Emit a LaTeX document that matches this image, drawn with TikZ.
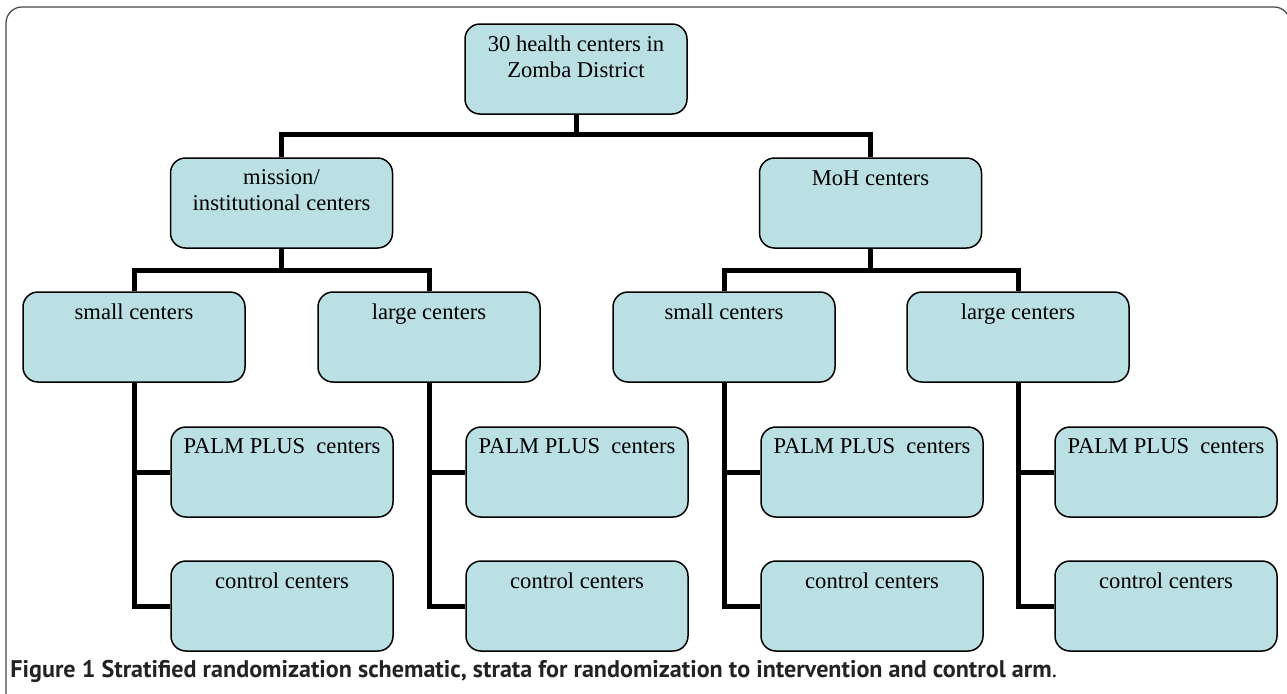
\documentclass[tikz,border=0pt]{standalone}
\usepackage{fontspec}
\setmainfont{Liberation Serif}
\newfontfamily\capfont{PT Sans}
\usetikzlibrary{positioning}
\definecolor{boxblue}{RGB}{186,224,227}
\definecolor{framegray}{RGB}{70,70,70}
\definecolor{capgray}{RGB}{35,35,35}
\begin{document}
\begin{tikzpicture}[x=0.5pt, y=-0.5pt]
	% Styles
	\tikzstyle{box}=[draw=black, line width=0.75pt, fill=boxblue, rounded corners=7.5pt, minimum width=111pt, minimum height=45pt, inner sep=0pt]
	\tikzstyle{txt}=[align=center, font=\fontsize{11.3}{13}\selectfont, inner sep=0pt, anchor=base]
	\tikzstyle{conn}=[draw, line width=2.5pt, -]

	\useasboundingbox (0,0) rectangle (1287,693);

	% Frame
	\draw[framegray, line width=0.6pt, rounded corners=8pt] (6,720) -- (6,7) -- (1290,7) -- (1290,720);

	% Top level (base is the last line)
	\node[box] (zomba) at (576,69) {};
	\node[txt] (zomba-t) at (576,77) {30 health centers in\\Zomba District};

	% Second level
	\node[box] (mission) at (281.5,203) {};
	\node[box] (moh) at (870.5,203) {};
	\node[txt] (mission-t) at (281.5,210) {mission/\\institutional centers};
	\node[txt] (moh-t) at (870.5,185) {MoH centers};

	% Third level: size strata
	\foreach \name/\x/\lbl in {smallA/134/small, largeA/429/large, smallB/724/small, largeB/1018/large}
	{
		\node[box] (\name) at (\x,337) {};
		\node[txt] (\name-t) at (\x,319) {\lbl\ centers};
	}

	% Fourth level: arms
	\foreach \name/\x in {smallA/134, largeA/429, smallB/724, largeB/1018}
	{
		\node[box] (\name-palm) at (\x+148,472) {};
		\node[txt] (\name-palm-t) at (\x+148,453) {PALM PLUS\ \ centers};
		\node[box] (\name-ctrl) at (\x+148,606) {};
		\node[txt] (\name-ctrl-t) at (\x+148,588) {control centers};
	}

	% Connect top to second level
	\coordinate (bus0) at (576,134);
	\path[conn] (zomba) -- (bus0);
	\path[conn] (mission) |- (bus0) -| (moh);

	% Connect second to third level
	\coordinate (bus1) at (281.5,270);
	\coordinate (bus2) at (870.5,270);
	\path[conn] (mission) -- (bus1);
	\path[conn] (smallA) |- (bus1) -| (largeA);
	\path[conn] (moh) -- (bus2);
	\path[conn] (smallB) |- (bus2) -| (largeB);

	% Connect strata to arms
	\foreach \name in {smallA, largeA, smallB, largeB}
	{
		\path[conn] (\name) |- (\name-ctrl);
		\path[conn] (\name-palm) -- (\name-palm -| \name);
	}

	% Caption
	\node[anchor=base west, inner sep=0pt, text=capgray, font=\capfont\fontsize{12.05}{13}\selectfont] (caption) at (10,677) {\textbf{Figure 1 Stratified randomization schematic, strata for randomization to intervention and control arm}.};
\end{tikzpicture}
\end{document}
